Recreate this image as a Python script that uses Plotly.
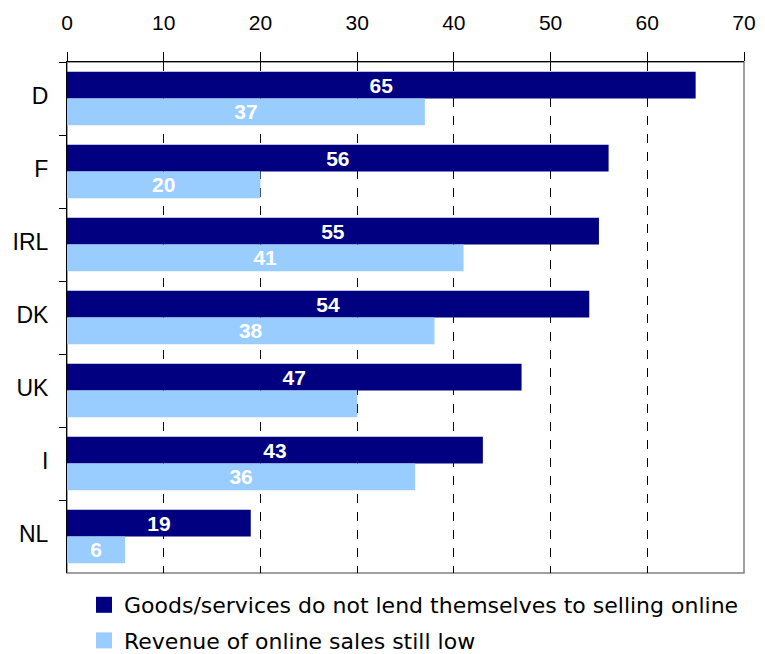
import plotly.graph_objects as go

countries = ["D", "F", "IRL", "DK", "UK", "I", "NL"]
goods_not_suitable = [65, 56, 55, 54, 47, 43, 19]
revenue_low = [37, 20, 41, 38, 30, 36, 6]
revenue_labels = ["37", "20", "41", "38", "", "36", "6"]
x_ticks = [0, 10, 20, 30, 40, 50, 60, 70]
series_names = ["Goods/services do not lend themselves to selling online",
                "Revenue of online sales still low"]
series_colors = ["#000080", "#99CCFF"]

FONT = "Liberation Sans, Arial, sans-serif"
LEGEND_FONT = "DejaVu Sans, sans-serif"

fig = go.Figure()
for vals, labels, name, color in [
    (goods_not_suitable, [str(v) for v in goods_not_suitable], series_names[0], series_colors[0]),
    (revenue_low, revenue_labels, series_names[1], series_colors[1]),
]:
    fig.add_trace(go.Bar(
        y=countries, x=vals, orientation="h", name=name, showlegend=False,
        marker=dict(color=color, line=dict(width=0)),
        text=labels, textposition="inside", insidetextanchor="middle",
        textangle=0, constraintext="none",
        textfont=dict(family=FONT, size=21, color="white", weight="bold"),
        cliponaxis=False,
    ))

# legend entries with square swatches
for i, (name, color) in enumerate(zip(series_names, series_colors)):
    fig.add_trace(go.Scatter(
        x=[None], y=[None], mode="markers", name=name, legendgroup=f"g{i}",
        marker=dict(symbol="square", size=17, color=color),
        showlegend=True, hoverinfo="skip",
    ))

# invisible trace on overlay axis for inward tick marks
fig.add_trace(go.Scatter(x=[0], y=[countries[0]], xaxis="x2", mode="markers",
                         marker=dict(opacity=0), showlegend=False, hoverinfo="skip"))

fig.update_layout(
    width=765, height=654,
    margin=dict(l=67, r=21, t=62, b=81, autoexpand=False),
    paper_bgcolor="white", plot_bgcolor="white",
    barmode="group", bargap=0.27, bargroupgap=0,
    font=dict(family=FONT, size=21, color="black"),
    showlegend=True,
    legend=dict(orientation="v", x=84 / 765, xref="container", y=1 - 584 / 654, yref="container",
                xanchor="left", yanchor="top",
                font=dict(size=22, family=LEGEND_FONT), itemwidth=30,
                tracegroupgap=4, bgcolor="rgba(0,0,0,0)"),
    xaxis=dict(
        side="top", range=[0, 70], tickvals=x_ticks, automargin=False,
        showline=True, linecolor="black", linewidth=1,
        ticks="outside", ticklen=9, tickcolor="black",
        showgrid=True, gridcolor="black", griddash="dash", gridwidth=1,
        zeroline=False, tickfont=dict(size=21), ticklabelstandoff=14,
    ),
    xaxis2=dict(
        overlaying="x", matches="x", side="top", anchor="y", range=[0, 70],
        tickvals=x_ticks, ticks="inside", ticklen=9, tickcolor="black",
        showticklabels=False, showgrid=False, showline=False, zeroline=False,
        automargin=False,
    ),
    yaxis=dict(
        autorange="reversed", categoryorder="array", categoryarray=countries,
        showline=True, linecolor="black", linewidth=1, automargin=False,
        ticks="outside", tickson="boundaries", ticklen=7, tickcolor="black",
        ticklabelstandoff=13, ticklabelshift=3, tickfont=dict(size=23),
        showgrid=False, zeroline=False,
    ),
    shapes=[dict(type="rect", xref="paper", yref="paper", x0=0, x1=1, y0=0, y1=1,
                 line=dict(color="#808080", width=1.5), layer="below")],
)

fig.write_html("out.html", config={"displayModeBar": False},
               post_script="document.body.style.margin='0';")
